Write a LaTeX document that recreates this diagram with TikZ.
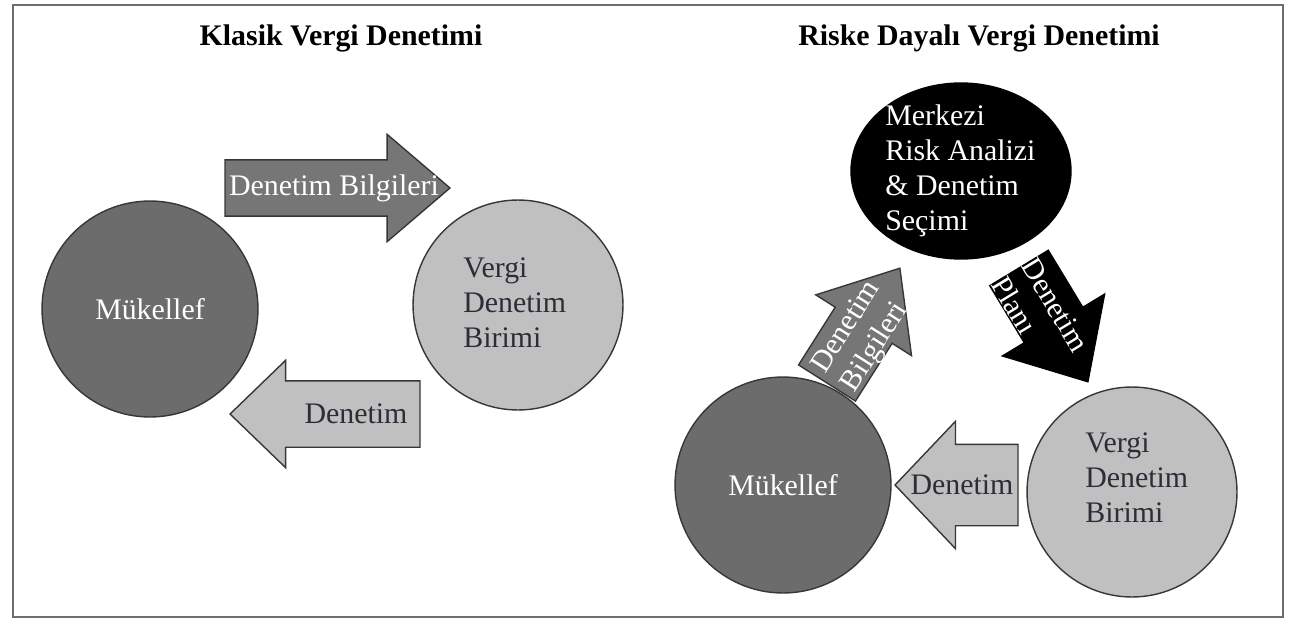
\documentclass[tikz,border=0pt]{standalone}
\usepackage{fontspec}
\setmainfont{Liberation Serif}
\usetikzlibrary{shapes.arrows,shapes.geometric,positioning}
\definecolor{darkfill}{RGB}{108,108,108}
\definecolor{lightfill}{RGB}{192,192,192}
\definecolor{arrowfill}{RGB}{118,118,118}
\definecolor{edgegray}{RGB}{55,55,55}
\definecolor{framegray}{RGB}{110,110,110}
\definecolor{textdark}{RGB}{45,45,55}
\tikzset{
        treenode/.style={align=left,inner sep=0pt,font=\fontsize{17}{20}\selectfont},
        % Circles
        node_dark/.style={treenode, circle, draw=edgegray, fill=darkfill, line width=0.8pt, text=white},
        node_light/.style={treenode, circle, draw=edgegray, fill=lightfill, line width=0.8pt},
        node_black/.style={treenode, ellipse, draw=black, fill=black, line width=0.8pt},
        % Texts
        node_text/.style={treenode, text=textdark},
        node_title/.style={inner sep=0pt, font=\fontsize{17}{20}\selectfont\bfseries},
        % Block arrows
        arrow_base/.style={single arrow, inner xsep=0pt, outer sep=0pt, line width=0.8pt, anchor=tail},
        arrow_dark/.style={arrow_base, draw=edgegray, fill=arrowfill},
        arrow_light/.style={arrow_base, draw=edgegray, fill=lightfill},
        arrow_black/.style={arrow_base, draw=black, fill=black}
}

\begin{document}
\begin{tikzpicture}[x=0.02cm, y=-0.02cm]
    \useasboundingbox (0,0) rectangle (1290,622);
    \draw[framegray, line width=1.6pt] (13,5) rectangle (1283,617);

    % Klasik
    \node[node_title] (title1) at (341,38) {Klasik Vergi Denetimi};
    \node[node_dark, minimum size=4.32cm] (muk1) at (150,309) {Mükellef};
    \node[node_light, minimum size=4.2cm] (ver1) at (518,305) {};
    \node[node_text, anchor=west] (ver1txt) at (463,303) {Vergi\\Denetim\\Birimi};
    \node[arrow_dark, rotate=0, minimum height=4.5cm, inner ysep=0.55cm,
          single arrow head extend=0.51cm, single arrow tip angle=81] (bil1) at (225,188) {};
    \node[node_text, text=white] (bil1txt) at (334,188) {Denetim Bilgileri};
    \node[arrow_light, rotate=180, minimum height=3.8cm, inner ysep=0.65cm,
          single arrow head extend=0.41cm, single arrow tip angle=88] (den1) at (420,414) {};
    \node[node_text] (den1txt) at (356,414) {Denetim};

    % Riske dayali
    \node[node_title] (title2) at (979,38) {Riske Dayalı Vergi Denetimi};
    \node[node_black, minimum width=4.4cm, minimum height=3.52cm] (mer) at (961,171) {};
    \node[node_text, text=white, anchor=west] (mertxt) at (885,171) {Merkezi\\Risk Analizi\\\& Denetim\\Seçimi};
    \node[node_dark, minimum size=4.32cm] (muk2) at (783,485) {Mükellef};
    \node[node_light, minimum size=4.2cm] (ver2) at (1132,492) {};
    \node[node_text, anchor=west] (ver2txt) at (1085,478) {Vergi\\Denetim\\Birimi};
    \node[arrow_dark, rotate=57.6, minimum height=2.72cm, inner ysep=0.66cm,
          single arrow head extend=0.46cm, single arrow tip angle=80] (bil2) at (827,383) {};
    \node[node_text, text=white, rotate=57.6] (bil2txt) at (862,337) {Denetim\\Bilgileri};
    \node[arrow_black, rotate=-58.8, minimum height=2.66cm, inner ysep=0.67cm,
          single arrow head extend=0.51cm, single arrow tip angle=84] (plan) at (1019,268) {};
    \node[node_text, text=white, rotate=-58.8] (plantxt) at (1040,314) {Denetim\\Planı};
    \node[arrow_light, rotate=180, minimum height=2.46cm, inner ysep=0.8cm,
          single arrow head extend=0.46cm, single arrow tip angle=93] (den2) at (1018,485) {};
    \node[node_text] (den2txt) at (962,485) {Denetim};
\end{tikzpicture}
\end{document}
